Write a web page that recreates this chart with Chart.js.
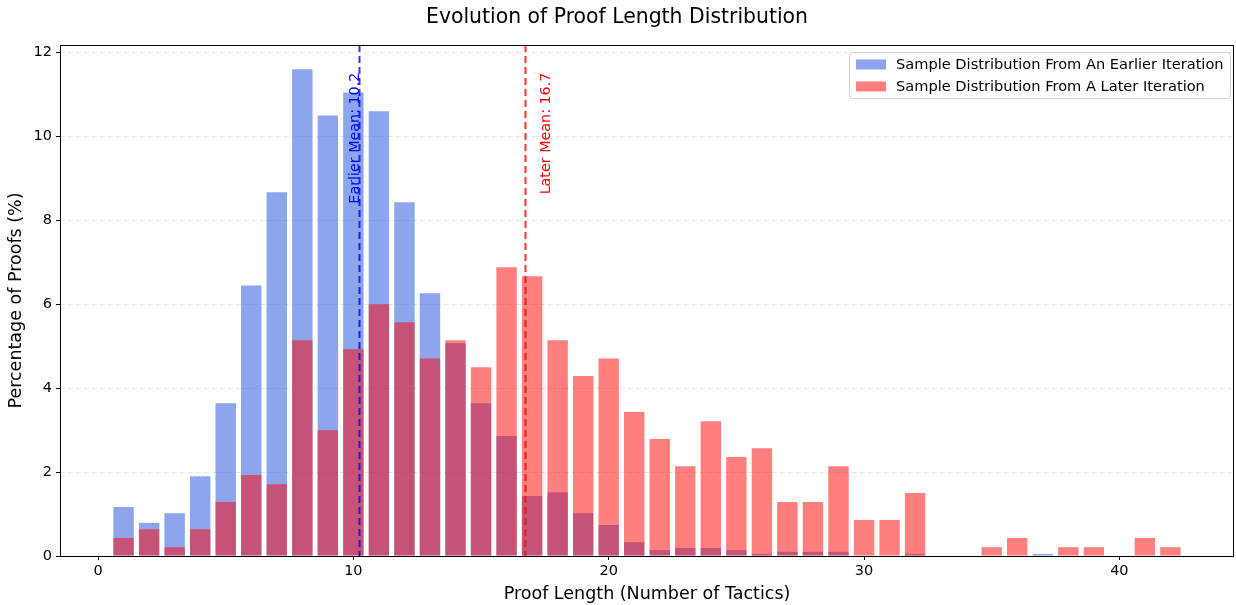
<!DOCTYPE html>
<html lang="en">
<head>
  <meta charset="UTF-8">
  <title>Evolution of Proof Length Distribution</title>
  <script src="https://cdn.jsdelivr.net/npm/chart.js"></script>
  <style>
    body { margin: 0; background: #fff; }
    #wrap { width: 1236px; height: 605px; }
  </style>
</head>
<body>
<div id="wrap"><canvas id="lenChart" width="1236" height="605"></canvas></div>
<script>
  // data (percent of proofs per proof length)
  const lengths = [1, 2, 3, 4, 5, 6, 7, 8, 9, 10, 11, 12, 13, 14, 15, 16, 17, 18, 19, 20, 21,
    22, 23, 24, 25, 26, 27, 28, 29, 30, 31, 32, 33, 34, 35, 36, 37, 38, 39, 40, 41, 42];
  const earlierPct = [1.17, 0.79, 1.02, 1.90, 3.64, 6.45, 8.67, 11.60, 10.50, 11.05, 10.60, 8.43, 6.26, 5.07,
    3.64, 2.86, 1.43, 1.52, 1.02, 0.74, 0.33, 0.14, 0.19, 0.19, 0.14, 0.05, 0.10, 0.10, 0.10, 0, 0, 0.05,
    0, 0, 0, 0, 0.05, 0, 0, 0, 0, 0];
  const laterPct = [0.43, 0.64, 0.21, 0.64, 1.29, 1.93, 1.71, 5.14, 3.00, 4.93, 6.00, 5.57, 4.71, 5.14,
    4.50, 6.88, 6.67, 5.14, 4.29, 4.71, 3.43, 2.79, 2.14, 3.21, 2.36, 2.57, 1.29, 1.29, 2.14, 0.86, 0.86, 1.50,
    0, 0, 0.21, 0.43, 0, 0.21, 0.21, 0, 0.43, 0.21];
  const earlierMean = 10.24;
  const laterMean = 16.74;
  const seriesNames = ['Sample Distribution From An Earlier Iteration', 'Sample Distribution From A Later Iteration'];
  const yTicks = [0, 2, 4, 6, 8, 10, 12];
  const xTicks = [0, 10, 20, 30, 40];

  const FONT = "'DejaVu Sans', sans-serif";
  const blueFill = 'rgba(65, 105, 225, 0.6)';
  const redFill = 'rgba(255, 0, 0, 0.5)';

  Chart.defaults.color = '#000';
  Chart.defaults.font.family = FONT;

  // mean lines, labels, frame and legend box
  const extras = {
    id: 'extras',
    afterDatasetsDraw(chart) {
      const { ctx, chartArea: a, scales } = chart;
      const x = scales.x;
      ctx.save();
      ctx.lineWidth = 2;
      ctx.setLineDash([7, 4]);
      [[earlierMean, 'rgba(0,0,255,0.8)'], [laterMean, 'rgba(255,0,0,0.8)']].forEach(([m, c]) => {
        const px = x.getPixelForValue(m);
        ctx.strokeStyle = c;
        ctx.beginPath();
        ctx.moveTo(px, a.top);
        ctx.lineTo(px, a.bottom);
        ctx.stroke();
      });
      ctx.setLineDash([]);

      // labels
      ctx.font = '14.3px ' + FONT;
      ctx.textAlign = 'right';
      ctx.textBaseline = 'alphabetic';
      const yTop = scales.y.getPixelForValue(11.52);
      ctx.fillStyle = 'blue';
      ctx.save();
      ctx.translate(x.getPixelForValue(earlierMean) - 0.5, yTop);
      ctx.rotate(-Math.PI / 2);
      ctx.fillText('Earlier Mean: ' + earlierMean.toFixed(1), 0, 0);
      ctx.restore();
      ctx.fillStyle = 'red';
      ctx.save();
      ctx.translate(x.getPixelForValue(laterMean) + 25, yTop);
      ctx.rotate(-Math.PI / 2);
      ctx.fillText('Later Mean: ' + laterMean.toFixed(1), 0, 0);
      ctx.restore();

      // frame
      ctx.strokeStyle = '#000';
      ctx.lineWidth = 1;
      ctx.strokeRect(Math.round(a.left) + 0.5, Math.round(a.top) + 0.5,
        Math.round(a.right - a.left) - 1, Math.round(a.bottom - a.top));

      // legend
      const lx = a.right - 385, ly = a.top + 7, lw = 381, lh = 46;
      ctx.fillStyle = 'rgba(255,255,255,0.8)';
      ctx.strokeStyle = '#d0d0d0';
      ctx.beginPath();
      ctx.roundRect(lx + 0.5, ly + 0.5, lw, lh, 3);
      ctx.fill();
      ctx.stroke();
      ctx.font = '14.6px ' + FONT;
      ctx.textAlign = 'left';
      ctx.textBaseline = 'middle';
      [blueFill, redFill].forEach((c, i) => {
        const cy = ly + 12.5 + i * 22;
        ctx.fillStyle = c;
        ctx.fillRect(lx + 7, cy - 5, 30, 10);
        ctx.fillStyle = '#000';
        ctx.fillText(seriesNames[i], lx + 47, cy + 1);
      });
      ctx.restore();
    }
  };

  new Chart(document.getElementById('lenChart'), {
    type: 'bar',
    data: {
      datasets: [
        {
          label: seriesNames[0],
          data: lengths.map((l, i) => ({ x: l, y: earlierPct[i] })),
          backgroundColor: blueFill,
          borderWidth: 0,
          order: 2
        },
        {
          label: seriesNames[1],
          data: lengths.map((l, i) => ({ x: l, y: laterPct[i] })),
          backgroundColor: redFill,
          borderWidth: 0,
          order: 1
        }
      ]
    },
    options: {
      responsive: false,
      animation: false,
      grouped: false,
      barPercentage: 0.8,
      categoryPercentage: 1.0,
      layout: { padding: { right: 2, left: 0, bottom: 0 } },
      plugins: {
        legend: { display: false },
        tooltip: { enabled: false },
        title: {
          display: true,
          text: 'Evolution of Proof Length Distribution',
          font: { size: 20.4, weight: 'normal', family: FONT },
          color: '#000',
          padding: { top: 5.8, bottom: 14.7 }
        }
      },
      scales: {
        x: {
          type: 'linear',
          offset: false,
          min: -1.49,
          max: 44.49,
          afterBuildTicks: s => { s.ticks = xTicks.map(v => ({ value: v })); },
          afterFit: s => { s.height = 49; },
          ticks: { font: { size: 14.5 }, padding: 3, maxRotation: 0 },
          grid: { offset: false, drawOnChartArea: false, drawTicks: true, tickLength: 4, tickColor: '#000' },
          border: { display: false },
          title: {
            display: true,
            text: 'Proof Length (Number of Tactics)',
            font: { size: 17.5 },
            padding: { top: 0, bottom: 0 }
          }
        },
        y: {
          min: 0,
          max: 12.18,
          afterBuildTicks: s => { s.ticks = yTicks.map(v => ({ value: v })); },
          afterFit: s => { s.width = 60; },
          ticks: { font: { size: 14.5 }, padding: 4 },
          grid: {
            color: '#e6e6e6',
            tickBorderDash: [],
            tickLength: 4,
            tickColor: '#000'
          },
          border: { display: false, dash: [5, 3] },
          title: {
            display: true,
            text: 'Percentage of Proofs (%)',
            font: { size: 17.5 },
            padding: { top: 6, bottom: 0 }
          }
        }
      }
    },
    plugins: [extras]
  });
</script>
</body>
</html>
